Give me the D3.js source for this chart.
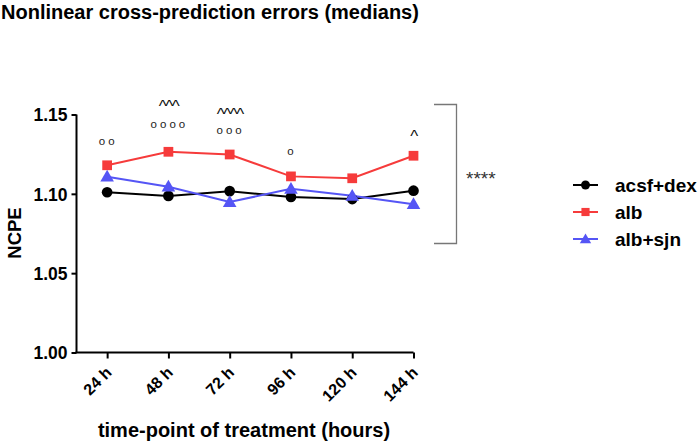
<!DOCTYPE html>
<html><head><meta charset="utf-8">
<script src="https://cdn.jsdelivr.net/npm/d3@7"></script>
<style>body{margin:0;background:#fff}svg{display:block}text{font-family:Arial,"Liberation Sans",sans-serif}</style>
</head><body><svg id="c" width="700" height="444"></svg>
<script>
const categories = ["24 h","48 h","72 h","96 h","120 h","144 h"];
const acsfDex = [1.101, 1.0987, 1.1017, 1.098, 1.0967, 1.102];
const alb = [1.118, 1.1265, 1.1248, 1.111, 1.1098, 1.124];
const albSjn = [1.1108, 1.1045, 1.0948, 1.1032, 1.0988, 1.0935];
const seriesNames = ["acsf+dex","alb","alb+sjn"];
const seriesColors = ["#000000","#f63b3b","#5555f5"];
const yTicks = [1.00, 1.05, 1.10, 1.15];
// significance annotations per category
const circleMarks = ["oo","oooo","ooo","o","",""];
const caretMarks = ["","^^^","^^^^","","","^"];
const bracketLabel = "****";

const svg = d3.select("#c");
const x = d3.scaleLinear().domain([-0.5, 5]).range([76.5, 413.5]);
const y = d3.scaleLinear().domain([1.0, 1.15]).range([352.5, 114.5]);

svg.append("text").attr("x",1).attr("y",19).attr("font-size",20).attr("font-weight","bold").text("Nonlinear cross-prediction errors (medians)");

// y axis
const ya = svg.append("g").attr("transform","translate(76.5,0)").call(d3.axisLeft(y).tickValues(yTicks).tickFormat(d3.format(".2f")).tickSize(5).tickSizeOuter(0));
ya.select(".domain").attr("stroke","#000").attr("stroke-width",2).attr("d",`M0,${y(1.15)}V${y(1.0)}`);
ya.selectAll(".tick line").attr("stroke-width",2);
ya.selectAll(".tick text").attr("font-size",17.5).attr("font-weight","bold").attr("font-family","Arial,'Liberation Sans',sans-serif").attr("fill","#000").attr("x",-9).attr("dy","0.36em");

// x axis
const xa = svg.append("g").attr("transform",`translate(0,${y(1.0)})`).call(d3.axisBottom(x).tickValues(d3.range(categories.length)).tickFormat(i=>categories[i]).tickSize(6).tickSizeOuter(0));
xa.select(".domain").attr("stroke-width",2).attr("d",`M${x(-0.5)-1},0H${x(5)}`);
xa.selectAll(".tick line").attr("stroke-width",2);
xa.selectAll(".tick text").attr("font-size",16).attr("font-weight","bold").attr("font-family","Arial,'Liberation Sans',sans-serif").attr("fill","#000")
  .attr("text-anchor","end").attr("y",0).attr("dy",0).attr("transform","translate(5,21) rotate(-45)");

svg.append("text").attr("x",244).attr("y",437).attr("text-anchor","middle").attr("font-size",20).attr("font-weight","bold").text("time-point of treatment (hours)");
svg.append("text").attr("transform","translate(21,233) rotate(-90)").attr("text-anchor","middle").attr("font-size",18.5).attr("font-weight","bold").text("NCPE");

// series
const series = [acsfDex, alb, albSjn];
const symbols = [d3.symbolCircle, d3.symbolSquare, d3.symbolTriangle];
const symSizes = [90, 95, 80];
const line = d3.line().x((d,i)=>x(i)).y(d=>y(d));
series.forEach((s,k)=>{
  svg.append("path").datum(s).attr("d",line).attr("fill","none").attr("stroke",seriesColors[k]).attr("stroke-width",2);
});
series.forEach((s,k)=>{
  svg.append("g").selectAll("path").data(s).join("path")
    .attr("transform",(d,i)=>`translate(${x(i)},${y(d) + (k===2?1:0)})`)
    .attr("d",d3.symbol(symbols[k],symSizes[k])).attr("fill",seriesColors[k]);
});

// annotations (vertical centres of the marks)
const circY = [142, 125, 131, 152, 0, 0];
const caretY = [0, 103, 111, 0, 0, 133];
circleMarks.forEach((t,i)=>{ if(t) svg.append("text").attr("x",x(i)+1).attr("y",circY[i]+3).attr("text-anchor","middle").attr("font-size",11.5).attr("letter-spacing",3).attr("fill","#222").text(t); });
caretMarks.forEach((t,i)=>{ if(t) svg.append("text").attr("x",x(i)).attr("y",caretY[i]+9).attr("text-anchor","middle").attr("font-size",17).attr("letter-spacing",-1.5).attr("fill","#111").text(t); });

// bracket
svg.append("path").attr("d","M434,104.5H456.5V243.5H434").attr("fill","none").attr("stroke","#777").attr("stroke-width",1.3);
svg.append("text").attr("x",466).attr("y",185).attr("font-size",19).attr("fill","#333").text(bracketLabel);

// legend
const ly = [185, 212, 239];
seriesNames.forEach((n,k)=>{
  const g = svg.append("g").attr("transform",`translate(573,${ly[k]})`);
  g.append("line").attr("x1",0).attr("x2",25).attr("stroke",seriesColors[k]).attr("stroke-width",2);
  g.append("path").attr("transform",`translate(12.5,${k===2?1:0})`).attr("d",d3.symbol(symbols[k],symSizes[k]*0.7)).attr("fill",seriesColors[k]);
  g.append("text").attr("x",42).attr("y",6.5).attr("font-size",19).attr("font-weight","bold").text(n);
});
</script></body></html>
